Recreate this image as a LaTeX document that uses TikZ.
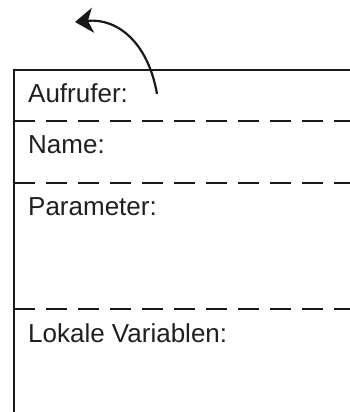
\documentclass[tikz,border=0pt]{standalone}
\usepackage{fontspec}
\setmainfont{Liberation Sans}
\usetikzlibrary{arrows.meta}
\begin{document}
\begin{tikzpicture}[x=1pt,y=-1pt,
  frame/.style={line width=2.2pt,draw=black!90},
  divider/.style={line width=2.3pt,draw=black!90,dash pattern=on 21pt off 11pt},
  label/.style={anchor=base west,inner sep=0pt,font=\fontsize{26}{30}\selectfont,text=black!88},
  callarrow/.style={line width=2.2pt,draw=black!90,-{Stealth[length=18pt,width=25pt,inset=5pt]}}]
\useasboundingbox (0,0) rectangle (350,412);
% frame
\coordinate (tl) at (14,70);
\coordinate (tr) at (351,70);
\coordinate (bl) at (14,413);
\draw[frame] (bl) -- (tl) -- (tr);
% dividers
\coordinate (d1l) at (14,121);
\coordinate (d1r) at (351,121);
\coordinate (d2l) at (14,183);
\coordinate (d2r) at (351,183);
\coordinate (d3l) at (14,309);
\coordinate (d3r) at (351,309);
\draw[divider] (d1l) -- (d1r);
\draw[divider] (d2l) -- (d2r);
\draw[divider] (d3l) -- (d3r);
% labels
\node[label] (aufrufer) at (28,102) {Aufrufer:};
\node[label] (name) at (28,153) {Name:};
\node[label] (param) at (28,215) {Parameter:};
\node[label] (lokal) at (28,342) {Lokale Variablen:};
% return arrow
\coordinate (astart) at (157,94);
\coordinate (aend) at (75,22);
\draw[callarrow] (astart) .. controls (148,42) and (117,18) .. (aend);
\end{tikzpicture}
\end{document}
